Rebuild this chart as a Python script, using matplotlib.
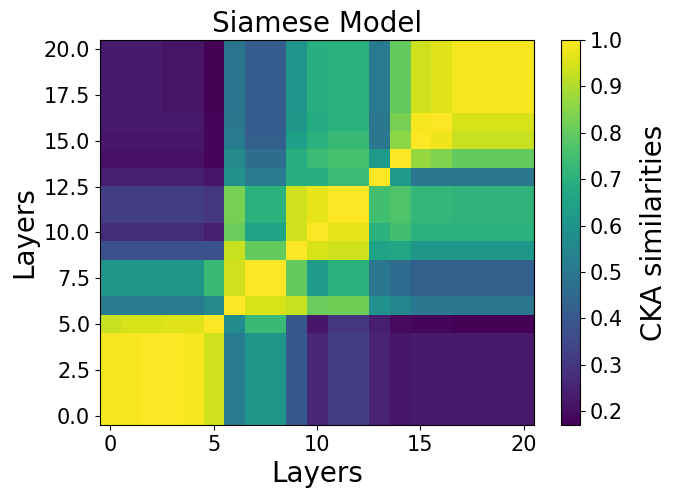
import numpy as np
import matplotlib
matplotlib.use('Agg')
from matplotlib import pyplot as plt

# CKA similarity matrix, rows = layer on y axis (0 at bottom)
row_0_4 = [0.99, 0.99, 1.00, 1.00, 0.99, 0.94, 0.51, 0.61, 0.61, 0.40, 0.26,
           0.32, 0.32, 0.25, 0.22, 0.23, 0.23, 0.23, 0.23, 0.23, 0.23]
row_5 = [0.93, 0.95, 0.95, 0.96, 0.96, 1.00, 0.57, 0.73, 0.73, 0.40, 0.22,
         0.30, 0.30, 0.24, 0.19, 0.18, 0.18, 0.17, 0.17, 0.17, 0.17]
row_6 = [0.51, 0.51, 0.51, 0.51, 0.51, 0.56, 1.00, 0.95, 0.95, 0.93, 0.81,
         0.82, 0.82, 0.59, 0.55, 0.50, 0.50, 0.50, 0.50, 0.50, 0.50]
row_7_8 = [0.61, 0.61, 0.61, 0.61, 0.61, 0.73, 0.94, 1.00, 1.00, 0.80, 0.63,
           0.70, 0.70, 0.50, 0.46, 0.42, 0.42, 0.42, 0.42, 0.42, 0.42]
row_9 = [0.38, 0.38, 0.38, 0.38, 0.38, 0.38, 0.93, 0.80, 0.80, 1.00, 0.95,
         0.94, 0.94, 0.65, 0.66, 0.61, 0.61, 0.61, 0.61, 0.61, 0.61]
row_10 = [0.28, 0.28, 0.28, 0.28, 0.28, 0.24, 0.81, 0.65, 0.65, 0.94, 1.00,
          0.97, 0.97, 0.70, 0.75, 0.70, 0.70, 0.70, 0.70, 0.70, 0.70]
row_11_12 = [0.32, 0.32, 0.32, 0.32, 0.32, 0.30, 0.83, 0.70, 0.70, 0.94, 0.97,
             1.00, 1.00, 0.75, 0.77, 0.72, 0.72, 0.71, 0.71, 0.71, 0.71]
row_13 = [0.24, 0.24, 0.24, 0.24, 0.24, 0.22, 0.59, 0.51, 0.51, 0.69, 0.69,
          0.74, 0.74, 1.00, 0.62, 0.50, 0.50, 0.50, 0.50, 0.50, 0.50]
row_14 = [0.21, 0.21, 0.21, 0.21, 0.21, 0.18, 0.56, 0.47, 0.47, 0.69, 0.74,
          0.76, 0.76, 0.62, 1.00, 0.87, 0.84, 0.80, 0.80, 0.80, 0.80]
row_15 = [0.22, 0.22, 0.22, 0.22, 0.22, 0.18, 0.51, 0.42, 0.42, 0.64, 0.70,
          0.73, 0.73, 0.50, 0.86, 1.00, 0.98, 0.93, 0.93, 0.93, 0.93]
row_16 = [0.23, 0.23, 0.23, 0.23, 0.23, 0.18, 0.50, 0.41, 0.41, 0.61, 0.68,
          0.70, 0.70, 0.50, 0.83, 0.99, 1.00, 0.95, 0.95, 0.95, 0.95]
row_17_20 = [0.23, 0.23, 0.23, 0.215, 0.215, 0.175, 0.49, 0.41, 0.41, 0.60, 0.69,
             0.70, 0.70, 0.51, 0.80, 0.94, 0.96, 0.99, 0.99, 0.99, 0.99]

cka = np.array([row_0_4] * 5 + [row_5, row_6, row_7_8, row_7_8, row_9, row_10,
               row_11_12, row_11_12, row_13, row_14, row_15, row_16] + [row_17_20] * 4)

fig = plt.figure(figsize=(6.81, 4.98), dpi=100)
ax = fig.add_axes([0.1468, 0.1466, 0.6373, 0.7731])
cax = fig.add_axes([0.8238, 0.1466, 0.0279, 0.7731])

im = ax.imshow(cka, origin='lower', cmap='viridis', aspect='auto')
ax.set_title('Siamese Model', fontsize=20)
ax.set_xlabel('Layers', fontsize=20)
ax.set_ylabel('Layers', fontsize=20)
ax.tick_params(labelsize=15)

cb = fig.colorbar(im, cax=cax)
cb.set_label('CKA similarities', fontsize=20, labelpad=12)
cb.ax.tick_params(labelsize=15)

fig.savefig('out.png', dpi=100)
